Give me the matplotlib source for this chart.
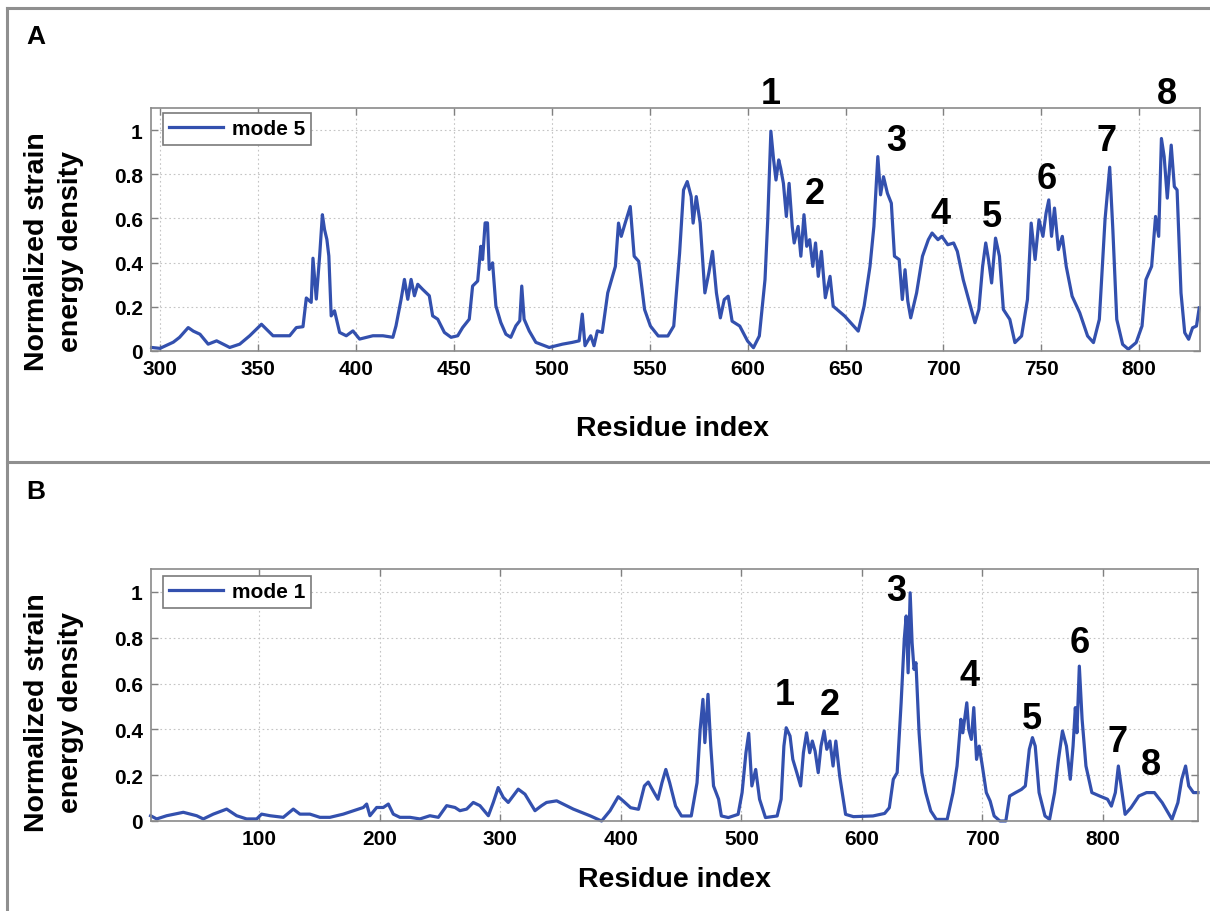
import matplotlib
matplotlib.use("Agg")
import matplotlib.pyplot as plt
from matplotlib.lines import Line2D

# ---------------- data ----------------
mode5_x = [295.7, 300, 306.8, 310, 314.4, 317, 320.4, 324.6, 328.9, 335.6, 340.7, 345.8, 351.8, 354.3, 357.7,
           366.2, 369.6, 373, 374.7, 377.2, 378.1, 379.8, 381.5, 382.9, 384, 385.2, 386.2, 387.4, 389.1, 391.7,
           395.1, 398.5, 401.9, 408.7, 413.8, 418.9, 420.5, 423.1, 424.8, 426.5, 428.2, 429.9, 431.6, 434.1,
           437.5, 439.2, 441.8, 445.2, 448.6, 452, 454.5, 457.9, 459.6, 462.2, 463.8, 464.7, 466, 467.2, 468.1,
           469.8, 471.5, 474, 476.6, 479.1, 481.7, 483.7, 484.7, 485.9, 488.5, 491.9, 498.7, 505.5, 510.5, 514,
           515.6, 517, 519.9, 521.6, 523.3, 525.8, 528.6, 532.5, 534.1, 535.5, 537.5, 540.1, 542.1, 544.4,
           547.4, 550.4, 554.4, 559.3, 562.3, 565.3, 567.3, 569.2, 571.2, 572.2, 573.8, 575.8, 578.2, 580.2,
           582.1, 584.1, 586.1, 588.1, 590.1, 592.1, 596, 600, 603, 606, 608.9, 610.3, 611.9, 613.3, 614.5,
           615.9, 616.9, 618.3, 619.8, 621.2, 622.8, 623.8, 625.8, 627.2, 628.8, 630.2, 631.7, 633.3, 634.7,
           636.1, 637.7, 639.7, 642.1, 643.7, 649.6, 656.5, 659.5, 662.5, 664.5, 666.5, 667.9, 669.4, 671.4,
           673.4, 675, 677.4, 679, 680.4, 681.8, 683.3, 686.3, 689.3, 692.3, 694.2, 697.2, 699.2, 702.2, 705.2,
           707.1, 710.1, 713.1, 716.1, 718.1, 720, 721.6, 723, 724.6, 726.6, 728.6, 730.6, 733.9, 736.5, 739.9,
           742.9, 744.8, 746.8, 748.8, 750.8, 752.4, 753.8, 755.2, 756.7, 758.7, 760.7, 762.7, 765.7, 769.6,
           773.6, 776.6, 779.6, 782.5, 784.9, 786.5, 788.5, 791.5, 794.4, 798.4, 801.4, 803.4, 806.3, 808.3,
           809.9, 811.3, 812.7, 814.3, 816.3, 817.9, 819.3, 821.3, 823.2, 825.2, 827.2, 829.2, 830.6]
mode5_y = [0.016, 0.012, 0.04, 0.062, 0.106, 0.09, 0.076, 0.031, 0.046, 0.016, 0.031, 0.069, 0.121, 0.099, 0.069,
           0.069, 0.106, 0.11, 0.24, 0.22, 0.42, 0.235, 0.43, 0.617, 0.55, 0.505, 0.43, 0.159, 0.182, 0.084,
           0.069, 0.091, 0.054, 0.069, 0.069, 0.062, 0.114, 0.234, 0.324, 0.234, 0.324, 0.25, 0.302, 0.279,
           0.25, 0.159, 0.144, 0.084, 0.062, 0.069, 0.106, 0.144, 0.294, 0.317, 0.474, 0.414, 0.58, 0.58, 0.369,
           0.399, 0.204, 0.129, 0.076, 0.062, 0.114, 0.137, 0.294, 0.144, 0.091, 0.039, 0.016, 0.031, 0.039, 0.046,
           0.167, 0.024, 0.069, 0.024, 0.091, 0.084, 0.263, 0.383, 0.579, 0.519, 0.579, 0.654, 0.429, 0.406,
           0.188, 0.113, 0.068, 0.068, 0.113, 0.444, 0.729, 0.767, 0.699, 0.579, 0.699, 0.579, 0.263, 0.353,
           0.451, 0.263, 0.150, 0.233, 0.248, 0.135, 0.113, 0.045, 0.015, 0.068, 0.323, 0.594, 0.995, 0.865, 0.774,
           0.865, 0.827, 0.759, 0.609, 0.759, 0.564, 0.489, 0.564, 0.429, 0.617, 0.474, 0.504, 0.383, 0.489,
           0.338, 0.451, 0.241, 0.338, 0.203, 0.158, 0.090, 0.203, 0.383, 0.564, 0.88, 0.707, 0.789, 0.714,
           0.669, 0.429, 0.414, 0.233, 0.368, 0.226, 0.150, 0.263, 0.429, 0.504, 0.534, 0.504, 0.519, 0.481, 0.489,
           0.451, 0.323, 0.226, 0.128, 0.188, 0.383, 0.489, 0.414, 0.308, 0.511, 0.429, 0.188, 0.143, 0.038, 0.068,
           0.233, 0.579, 0.414, 0.594, 0.519, 0.624, 0.684, 0.519, 0.647, 0.459, 0.519, 0.383, 0.248, 0.173,
           0.068, 0.038, 0.143, 0.594, 0.832, 0.549, 0.143, 0.030, 0.008, 0.038, 0.113, 0.323, 0.383, 0.609,
           0.519, 0.962, 0.88, 0.692, 0.932, 0.744, 0.729, 0.263, 0.083, 0.053, 0.105, 0.113, 0.195]

mode1_x = [9.7, 14.7, 23, 36.8, 47.9, 53.4, 61.7, 72.8, 81.1, 89.4, 97.7, 101.8, 108.8, 119.8, 128.1, 133.6,
           141.9, 150.2, 158.5, 169.6, 186.2, 189, 191.7, 197.3, 202.8, 207, 211.1, 216.6, 225, 233.2, 241.5,
           248.5, 255.4, 262.3, 266.4, 272, 277.5, 283, 290, 294.1, 298.2, 302.4, 306.5, 310.7, 314.8, 320.4,
           328.7, 334.2, 338.3, 346.7, 360.5, 374.3, 384, 391, 397.8, 402, 408.1, 414.6, 419.5, 422.7, 427.6,
           430.8, 434.1, 437.3, 440.5, 445.4, 450.3, 458.4, 463.2, 465.8, 468.1, 469.7, 472.3, 474.6, 476.9,
           481.1, 483.4, 489.2, 497.3, 500.6, 503.8, 506.1, 508.7, 511.9, 515.1, 520, 529.7, 533, 535.3, 537.2,
           540.4, 542.7, 546, 549.2, 551.5, 554.1, 556.7, 558.9, 561.2, 563.8, 566.1, 568.7, 570.9, 573.5, 576.1,
           578.4, 581.6, 586.5, 593, 609.2, 618.9, 622.8, 626.1, 629.3, 632.6, 635.2, 636.8, 638.4, 640.1, 641.7,
           643.3, 644.9, 647.5, 649.8, 653, 657.2, 661.8, 670.8, 675.7, 679, 682.2, 683.8, 687.1, 688.7, 690.9,
           692.9, 695.2, 697.4, 700, 703.3, 706.5, 709.8, 714.6, 719.5, 722.7, 727.6, 732.5, 735.7, 739, 741.6,
           743.9, 747.1, 752, 755.8, 760, 763.2, 766.5, 769.8, 773, 775.3, 777.2, 778.5, 780.5, 782.8, 786,
           790.9, 797.4, 803.9, 807.1, 810.4, 812.9, 815.2, 818.5, 823.4, 829.9, 836.3, 842.8, 849.3, 857.4,
           862.3, 865.5, 868.7, 871.3, 875.2, 879]
mode1_y = [0.023, 0.009, 0.023, 0.038, 0.023, 0.009, 0.03, 0.052, 0.023, 0.009, 0.009, 0.03, 0.023, 0.016, 0.052,
           0.03, 0.03, 0.016, 0.016, 0.03, 0.059, 0.074, 0.023, 0.059, 0.059, 0.074, 0.03, 0.016, 0.016, 0.009,
           0.023, 0.016, 0.067, 0.059, 0.045, 0.052, 0.081, 0.067, 0.023, 0.081, 0.146, 0.103, 0.081, 0.11, 0.139,
           0.117, 0.045, 0.067, 0.081, 0.088, 0.052, 0.023, 0.0, 0.045, 0.106, 0.087, 0.058, 0.051, 0.153, 0.17,
           0.124, 0.095, 0.167, 0.225, 0.167, 0.065, 0.022, 0.022, 0.167, 0.4, 0.531, 0.342, 0.553, 0.327, 0.153,
           0.095, 0.022, 0.015, 0.029, 0.124, 0.298, 0.383, 0.153, 0.225, 0.095, 0.015, 0.022, 0.095, 0.327, 0.407,
           0.371, 0.269, 0.211, 0.153, 0.298, 0.385, 0.298, 0.349, 0.305, 0.211, 0.327, 0.393, 0.313, 0.349, 0.24,
           0.349, 0.196, 0.029, 0.019, 0.022, 0.033, 0.058, 0.182, 0.211, 0.516, 0.793, 0.895, 0.647, 0.996, 0.778,
           0.662, 0.691, 0.385, 0.211, 0.124, 0.044, 0.007, 0.007, 0.124, 0.24, 0.444, 0.385, 0.516, 0.4, 0.356,
           0.495, 0.269, 0.327, 0.24, 0.124, 0.087, 0.022, 0.0, 0.0, 0.109, 0.124, 0.138, 0.153, 0.313, 0.364,
           0.327, 0.124, 0.022, 0.007, 0.124, 0.269, 0.393, 0.327, 0.182, 0.327, 0.495, 0.385, 0.676, 0.444, 0.24,
           0.124, 0.109, 0.095, 0.065, 0.124, 0.24, 0.153, 0.029, 0.058, 0.109, 0.124, 0.124, 0.08, 0.007,
           0.08, 0.182, 0.24, 0.153, 0.124, 0.124]

peak_labels = ["1", "2", "3", "4", "5", "6", "7", "8"]
peaksA_x = [611.9, 634.3, 675.8, 698.6, 725, 752.8, 783.1, 814.3]
peaksA_y = [1.165, 0.714, 0.955, 0.624, 0.609, 0.782, 0.955, 1.165]
peaksB_x = [535.6, 573.5, 628.7, 689.7, 741.2, 780.5, 812, 839.6]
peaksB_y = [0.553, 0.509, 1.004, 0.633, 0.447, 0.778, 0.349, 0.247]

yticks = [0, 0.2, 0.4, 0.6, 0.8, 1]
ytick_labels = ["0", "0.2", "0.4", "0.6", "0.8", "1"]
xticksA = [300, 350, 400, 450, 500, 550, 600, 650, 700, 750, 800]
xticksB = [100, 200, 300, 400, 500, 600, 700, 800]

# ---------------- style ----------------
FONT = "Liberation Sans"
plt.rcParams['font.family'] = [FONT, 'DejaVu Sans']
plt.rcParams['font.weight'] = 'bold'
LINE = "#3350ae"
W, H = 1210, 912

fig = plt.figure(figsize=(W / 100, H / 100), dpi=100)


def fx(px):
    return px / W


def fy(py):
    return 1 - py / H


def setup(ax, xlim, xticks):
    ax.set_xlim(*xlim)
    ax.set_ylim(0, 1.1)
    ax.set_xticks(xticks)
    ax.set_xticklabels([str(t) for t in xticks])
    ax.set_yticks(yticks)
    ax.set_yticklabels(ytick_labels)
    ax.grid(True, linestyle=(0, (1.5, 2.5)), color="#c4c4c4", linewidth=0.8)
    ax.set_axisbelow(True)
    ax.tick_params(direction="in", length=5, width=1, color="#808080", top=True, right=True,
                   labelsize=15, pad=6)
    for lab in ax.get_xticklabels() + ax.get_yticklabels():
        lab.set_fontweight("bold")
    for s in ax.spines.values():
        s.set_color("#8a8a8a")
        s.set_linewidth(1.2)


def legend(ax, anchor):
    leg = ax.legend(loc="upper left", bbox_to_anchor=anchor, borderaxespad=0,
                    fontsize=15, handlelength=2.6, fancybox=False, edgecolor="#7a7a7a",
                    framealpha=1, borderpad=0.3, handletextpad=0.4)
    leg.get_frame().set_linewidth(1.2)
    for t in leg.get_texts():
        t.set_fontweight("bold")
    return leg


# Panel A
axA = fig.add_axes([fx(151), fy(352), fx(1200 - 151), (352 - 109) / H])
axA.plot(mode5_x, mode5_y, color=LINE, linewidth=2.3, label="mode 5", clip_on=False)
setup(axA, (295.4, 831), xticksA)
for lab, x, y in zip(peak_labels, peaksA_x, peaksA_y):
    axA.text(x, y, lab, fontsize=26, fontweight="bold", ha="center", va="center", clip_on=False)
legend(axA, (0.0114, 0.979))

# Panel B
axB = fig.add_axes([fx(151), fy(822), fx(1198 - 151), (822 - 570) / H])
axB.plot(mode1_x, mode1_y, color=LINE, linewidth=2.3, label="mode 1", clip_on=False)
setup(axB, (10, 879), xticksB)
for lab, x, y in zip(peak_labels, peaksB_x, peaksB_y):
    axB.text(x, y, lab, fontsize=26, fontweight="bold", ha="center", va="center", clip_on=False)
legend(axB, (0.0115, 0.972))

# Axis labels
ylab = "Normalized strain\nenergy density"
fig.text(fx(54), fy(252), ylab, rotation=90, ha="center", va="center", fontsize=20.5,
         fontweight="bold", multialignment="center", linespacing=1.4)
fig.text(fx(54), fy(713), ylab, rotation=90, ha="center", va="center", fontsize=20.5,
         fontweight="bold", multialignment="center", linespacing=1.4)
fig.text(fx(673), fy(429), "Residue index", ha="center", va="center", fontsize=20.5, fontweight="bold")
fig.text(fx(675), fy(880), "Residue index", ha="center", va="center", fontsize=20.5, fontweight="bold")

# Panel letters
fig.text(fx(36), fy(37), "A", ha="center", va="center", fontsize=19, fontweight="bold")
fig.text(fx(36), fy(492), "B", ha="center", va="center", fontsize=19, fontweight="bold")

# Panel frames
frame_kw = dict(color="#8f8f8f", linewidth=2.2, transform=fig.transFigure)
fig.add_artist(Line2D([fx(7), 1.0], [fy(8.5), fy(8.5)], **frame_kw))
fig.add_artist(Line2D([fx(7), fx(7)], [fy(8.5), 0.0], **frame_kw))
fig.add_artist(Line2D([fx(7), 1.0], [fy(463), fy(463)], **frame_kw))

fig.savefig("out.png", dpi=100)
